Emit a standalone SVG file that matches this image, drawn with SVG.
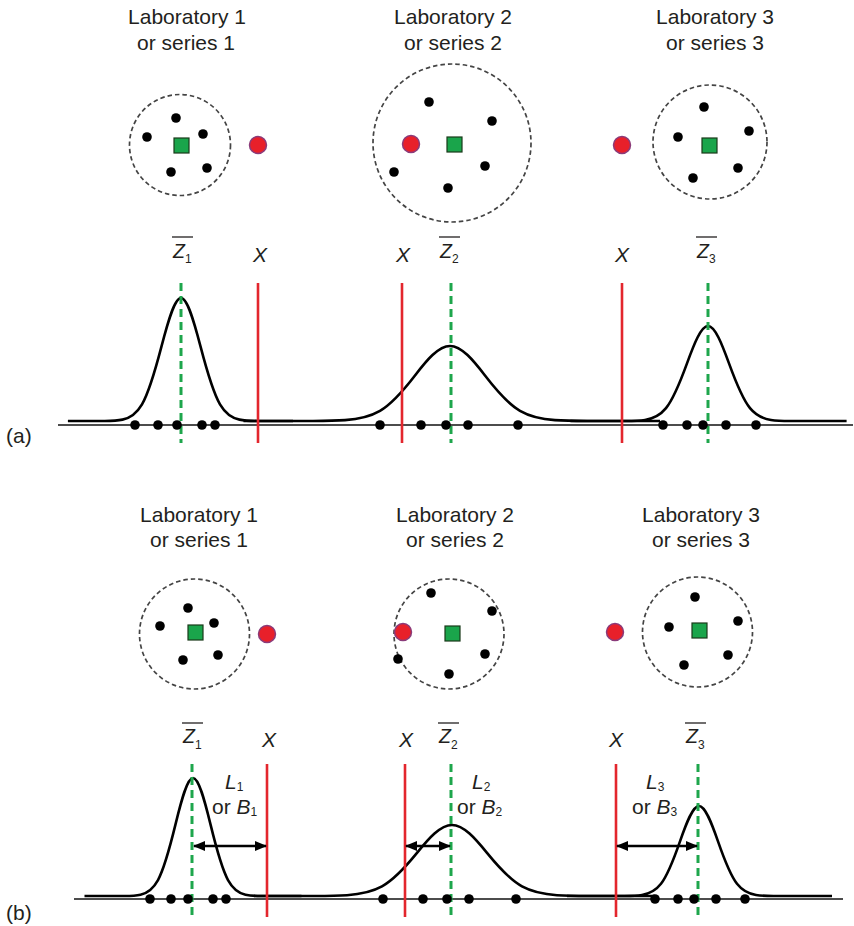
<svg xmlns="http://www.w3.org/2000/svg" width="854" height="926" viewBox="0 0 854 926">
<style>
text{font-family:"Liberation Sans",Arial,sans-serif;fill:#231f20}
.title{font-size:21px;text-anchor:middle}
.lab{font-size:21px;font-style:italic}
.sub{font-size:12px;font-style:normal}
.xl{font-size:21px;font-style:italic;text-anchor:middle}
.plain{font-size:21px;font-style:normal}
.zc{font-size:19.5px;font-style:italic}
.bar{stroke:#231f20;stroke-width:1.3}
.ring{fill:none;stroke:#444;stroke-width:1.7;stroke-dasharray:4.5 3}
.dot{fill:#000}
.ref{fill:#e8202a;stroke:#8a3b7a;stroke-width:1.5}
.mean{fill:#1aa54b;stroke:#1a3a1a;stroke-width:1.2}
.axis{stroke:#111;stroke-width:1.6}
.red{stroke:#e3262d;stroke-width:2.6}
.green{stroke:#1ea64c;stroke-width:3;stroke-dasharray:8 5}
.gauss{fill:none;stroke:#000;stroke-width:2.6;vector-effect:non-scaling-stroke}
.arrow{stroke:#000;stroke-width:2.6;marker-start:url(#ah);marker-end:url(#ah)}
</style>
<defs>
<marker id="ah" viewBox="0 0 12 10" refX="11" refY="5" markerWidth="12" markerHeight="10" markerUnits="userSpaceOnUse" orient="auto-start-reverse">
<path d="M0,0 L12,5 L0,10 z" fill="#000"/>
</marker>
</defs>

<!-- Panel (a) -->
<g id="panel-a-labels">
<text class="title" x="187" y="24">Laboratory 1</text>
<text class="title" x="186" y="50">or series 1</text>
<text class="title" x="453" y="24">Laboratory 2</text>
<text class="title" x="453" y="50">or series 2</text>
<text class="title" x="715" y="24">Laboratory 3</text>
<text class="title" x="715" y="50">or series 3</text>
<text class="plain" x="6" y="443">(a)</text>
</g>

<g id="a-lab1">
<circle class="ring" cx="180" cy="145" r="50.5"/>
<rect class="mean" x="174" y="138" width="15" height="15"/>
<circle class="dot" cx="176" cy="118" r="4.8"/>
<circle class="dot" cx="147" cy="137" r="4.8"/>
<circle class="dot" cx="203" cy="134" r="4.8"/>
<circle class="dot" cx="171" cy="172" r="4.8"/>
<circle class="dot" cx="207" cy="168" r="4.8"/>
<circle class="ref" cx="258" cy="145" r="8.5"/>
</g>
<g id="a-lab2">
<circle class="ring" cx="452" cy="143" r="79"/>
<rect class="mean" x="447" y="137" width="15" height="15"/>
<circle class="dot" cx="429" cy="102" r="4.8"/>
<circle class="dot" cx="492" cy="121" r="4.8"/>
<circle class="dot" cx="394" cy="172" r="4.8"/>
<circle class="dot" cx="485" cy="166" r="4.8"/>
<circle class="dot" cx="448" cy="188" r="4.8"/>
<circle class="ref" cx="411" cy="144" r="8.5"/>
</g>
<g id="a-lab3">
<circle class="ring" cx="710" cy="142" r="57"/>
<rect class="mean" x="702" y="138" width="15" height="15"/>
<circle class="dot" cx="704" cy="107" r="4.8"/>
<circle class="dot" cx="678" cy="137" r="4.8"/>
<circle class="dot" cx="749" cy="131" r="4.8"/>
<circle class="dot" cx="693" cy="178" r="4.8"/>
<circle class="dot" cx="738" cy="168" r="4.8"/>
<circle class="ref" cx="622" cy="145" r="8.5"/>
</g>

<g id="a-axis-labels">
<text class="zc" x="173" y="258">Z<tspan class="sub" dy="5">1</tspan></text>
<line class="bar" x1="172" y1="237" x2="193" y2="237"/>
<text class="zc" x="440" y="258">Z<tspan class="sub" dy="5">2</tspan></text>
<line class="bar" x1="439" y1="237" x2="460" y2="237"/>
<text class="zc" x="697" y="258">Z<tspan class="sub" dy="5">3</tspan></text>
<line class="bar" x1="696" y1="237" x2="717" y2="237"/>
<text class="xl" x="260" y="262">X</text>
<text class="xl" x="403" y="262">X</text>
<text class="xl" x="622" y="262">X</text>
</g>

<g id="a-plot">
<line class="axis" x1="58" y1="425" x2="853" y2="425"/>
<path class="gauss" transform="translate(181,421) scale(19.5,-123)" d="M-5.8 0 L-4 0.0003 C-3.6667 0.0007 -3.3333 0 -3 0.0111 C-2.6667 0.0222 -2.3333 0.0451 -2 0.1353 C-1.6667 0.2255 -1.3333 0.4043 -1 0.6065 C-0.6667 0.8087 -0.3333 1 0 1 C0.3333 1 0.6667 0.8087 1 0.6065 C1.3333 0.4043 1.6667 0.2255 2 0.1353 C2.3333 0.0451 2.6667 0.0222 3 0.0111 C3.3333 0 3.6667 0.0007 4 0.0003 L5.75 0"/>
<path class="gauss" transform="translate(450,421) scale(35,-75)" d="M-5.9 0 L-4 0.0003 C-3.6667 0.0007 -3.3333 0 -3 0.0111 C-2.6667 0.0222 -2.3333 0.0451 -2 0.1353 C-1.6667 0.2255 -1.3333 0.4043 -1 0.6065 C-0.6667 0.8087 -0.3333 1 0 1 C0.3333 1 0.6667 0.8087 1 0.6065 C1.3333 0.4043 1.6667 0.2255 2 0.1353 C2.3333 0.0451 2.6667 0.0222 3 0.0111 C3.3333 0 3.6667 0.0007 4 0.0003 L6 0"/>
<path class="gauss" transform="translate(708,421) scale(21,-95)" d="M-6.55 0 L-4 0.0003 C-3.6667 0.0007 -3.3333 0 -3 0.0111 C-2.6667 0.0222 -2.3333 0.0451 -2 0.1353 C-1.6667 0.2255 -1.3333 0.4043 -1 0.6065 C-0.6667 0.8087 -0.3333 1 0 1 C0.3333 1 0.6667 0.8087 1 0.6065 C1.3333 0.4043 1.6667 0.2255 2 0.1353 C2.3333 0.0451 2.6667 0.0222 3 0.0111 C3.3333 0 3.6667 0.0007 4 0.0003 L6.6 0"/>
<line class="green" x1="181" y1="283" x2="181" y2="443"/>
<line class="green" x1="451" y1="283" x2="451" y2="443"/>
<line class="green" x1="708" y1="283" x2="708" y2="443"/>
<line class="red" x1="258" y1="283" x2="258" y2="443"/>
<line class="red" x1="402" y1="283" x2="402" y2="443"/>
<line class="red" x1="622" y1="283" x2="622" y2="443"/>
<g class="dot">
<circle cx="135" cy="425" r="4.8"/><circle cx="158" cy="425" r="4.8"/><circle cx="177" cy="425" r="4.8"/><circle cx="202" cy="425" r="4.8"/><circle cx="215" cy="425" r="4.8"/>
<circle cx="380" cy="425" r="4.8"/><circle cx="421" cy="425" r="4.8"/><circle cx="446" cy="425" r="4.8"/><circle cx="468" cy="425" r="4.8"/><circle cx="518" cy="425" r="4.8"/>
<circle cx="663" cy="425" r="4.8"/><circle cx="687" cy="425" r="4.8"/><circle cx="703" cy="425" r="4.8"/><circle cx="726" cy="425" r="4.8"/><circle cx="756" cy="425" r="4.8"/>
</g>
</g>

<!-- Panel (b) -->
<g id="panel-b-labels">
<text class="title" x="199" y="522">Laboratory 1</text>
<text class="title" x="199" y="547">or series 1</text>
<text class="title" x="455" y="522">Laboratory 2</text>
<text class="title" x="455" y="547">or series 2</text>
<text class="title" x="701" y="522">Laboratory 3</text>
<text class="title" x="701" y="547">or series 3</text>
<text class="plain" x="6" y="920">(b)</text>
</g>

<g id="b-lab1">
<circle class="ring" cx="194.5" cy="634" r="55"/>
<rect class="mean" x="188" y="625" width="15" height="15"/>
<circle class="dot" cx="188" cy="608" r="4.8"/>
<circle class="dot" cx="160" cy="626" r="4.8"/>
<circle class="dot" cx="214" cy="623" r="4.8"/>
<circle class="dot" cx="183" cy="660" r="4.8"/>
<circle class="dot" cx="218" cy="655" r="4.8"/>
<circle class="ref" cx="267" cy="634" r="8.5"/>
</g>
<g id="b-lab2">
<circle class="ring" cx="449" cy="634" r="55"/>
<rect class="mean" x="445" y="626" width="15" height="15"/>
<circle class="dot" cx="431" cy="593" r="4.8"/>
<circle class="dot" cx="492" cy="611" r="4.8"/>
<circle class="dot" cx="398" cy="659" r="4.8"/>
<circle class="dot" cx="485" cy="654" r="4.8"/>
<circle class="dot" cx="449" cy="674" r="4.8"/>
<circle class="ref" cx="403" cy="632" r="8.5"/>
</g>
<g id="b-lab3">
<circle class="ring" cx="697.5" cy="632" r="55"/>
<rect class="mean" x="692" y="623" width="15" height="15"/>
<circle class="dot" cx="695" cy="597" r="4.8"/>
<circle class="dot" cx="669" cy="627" r="4.8"/>
<circle class="dot" cx="738" cy="621" r="4.8"/>
<circle class="dot" cx="684" cy="665" r="4.8"/>
<circle class="dot" cx="728" cy="655" r="4.8"/>
<circle class="ref" cx="615" cy="632" r="8.5"/>
</g>

<g id="b-axis-labels">
<text class="zc" x="183" y="743">Z<tspan class="sub" dy="6">1</tspan></text>
<line class="bar" x1="182" y1="723" x2="203" y2="723"/>
<text class="zc" x="439" y="743">Z<tspan class="sub" dy="6">2</tspan></text>
<line class="bar" x1="438" y1="723" x2="459" y2="723"/>
<text class="zc" x="686" y="743">Z<tspan class="sub" dy="6">3</tspan></text>
<line class="bar" x1="685" y1="723" x2="706" y2="723"/>
<text class="xl" x="269" y="747">X</text>
<text class="xl" x="406" y="747">X</text>
<text class="xl" x="616" y="747">X</text>
<text class="lab" x="225" y="789">L<tspan class="sub" dy="2">1</tspan></text>
<text class="plain" x="212" y="814">or <tspan class="lab">B</tspan><tspan class="sub" dy="2">1</tspan></text>
<text class="lab" x="472" y="789">L<tspan class="sub" dy="2">2</tspan></text>
<text class="plain" x="457" y="814">or <tspan class="lab">B</tspan><tspan class="sub" dy="2">2</tspan></text>
<text class="lab" x="646" y="789">L<tspan class="sub" dy="2">3</tspan></text>
<text class="plain" x="632" y="814">or <tspan class="lab">B</tspan><tspan class="sub" dy="2">3</tspan></text>
</g>

<g id="b-plot">
<line class="axis" x1="74" y1="899" x2="843" y2="899"/>
<path class="gauss" transform="translate(193,896) scale(17.5,-118)" d="M-6.2 0 L-4 0.0003 C-3.6667 0.0007 -3.3333 0 -3 0.0111 C-2.6667 0.0222 -2.3333 0.0451 -2 0.1353 C-1.6667 0.2255 -1.3333 0.4043 -1 0.6065 C-0.6667 0.8087 -0.3333 1 0 1 C0.3333 1 0.6667 0.8087 1 0.6065 C1.3333 0.4043 1.6667 0.2255 2 0.1353 C2.3333 0.0451 2.6667 0.0222 3 0.0111 C3.3333 0 3.6667 0.0007 4 0.0003 L6.2 0"/>
<path class="gauss" transform="translate(452,896) scale(35,-71)" d="M-5.66 0 L-4 0.0003 C-3.6667 0.0007 -3.3333 0 -3 0.0111 C-2.6667 0.0222 -2.3333 0.0451 -2 0.1353 C-1.6667 0.2255 -1.3333 0.4043 -1 0.6065 C-0.6667 0.8087 -0.3333 1 0 1 C0.3333 1 0.6667 0.8087 1 0.6065 C1.3333 0.4043 1.6667 0.2255 2 0.1353 C2.3333 0.0451 2.6667 0.0222 3 0.0111 C3.3333 0 3.6667 0.0007 4 0.0003 L5.8 0"/>
<path class="gauss" transform="translate(699,896) scale(19,-90)" d="M-6.95 0 L-4 0.0003 C-3.6667 0.0007 -3.3333 0 -3 0.0111 C-2.6667 0.0222 -2.3333 0.0451 -2 0.1353 C-1.6667 0.2255 -1.3333 0.4043 -1 0.6065 C-0.6667 0.8087 -0.3333 1 0 1 C0.3333 1 0.6667 0.8087 1 0.6065 C1.3333 0.4043 1.6667 0.2255 2 0.1353 C2.3333 0.0451 2.6667 0.0222 3 0.0111 C3.3333 0 3.6667 0.0007 4 0.0003 L7 0"/>
<line class="green" x1="192" y1="764" x2="192" y2="917"/>
<line class="green" x1="451" y1="764" x2="451" y2="917"/>
<line class="green" x1="698" y1="764" x2="698" y2="917"/>
<line class="red" x1="267" y1="764" x2="267" y2="917"/>
<line class="red" x1="405" y1="764" x2="405" y2="917"/>
<line class="red" x1="616" y1="764" x2="616" y2="917"/>
<g class="dot">
<circle cx="150" cy="899" r="4.8"/><circle cx="171" cy="899" r="4.8"/><circle cx="188" cy="899" r="4.8"/><circle cx="213" cy="899" r="4.8"/><circle cx="226" cy="899" r="4.8"/>
<circle cx="383" cy="899" r="4.8"/><circle cx="423" cy="899" r="4.8"/><circle cx="447" cy="899" r="4.8"/><circle cx="469" cy="899" r="4.8"/><circle cx="516" cy="899" r="4.8"/>
<circle cx="655" cy="899" r="4.8"/><circle cx="678" cy="899" r="4.8"/><circle cx="694" cy="899" r="4.8"/><circle cx="716" cy="899" r="4.8"/><circle cx="745" cy="899" r="4.8"/>
</g>
</g>

<g id="connectors">
<line class="arrow" x1="194" y1="846" x2="266" y2="846"/>
<line class="arrow" x1="406" y1="846" x2="450" y2="846"/>
<line class="arrow" x1="617" y1="846" x2="697" y2="846"/>
</g>
</svg>
